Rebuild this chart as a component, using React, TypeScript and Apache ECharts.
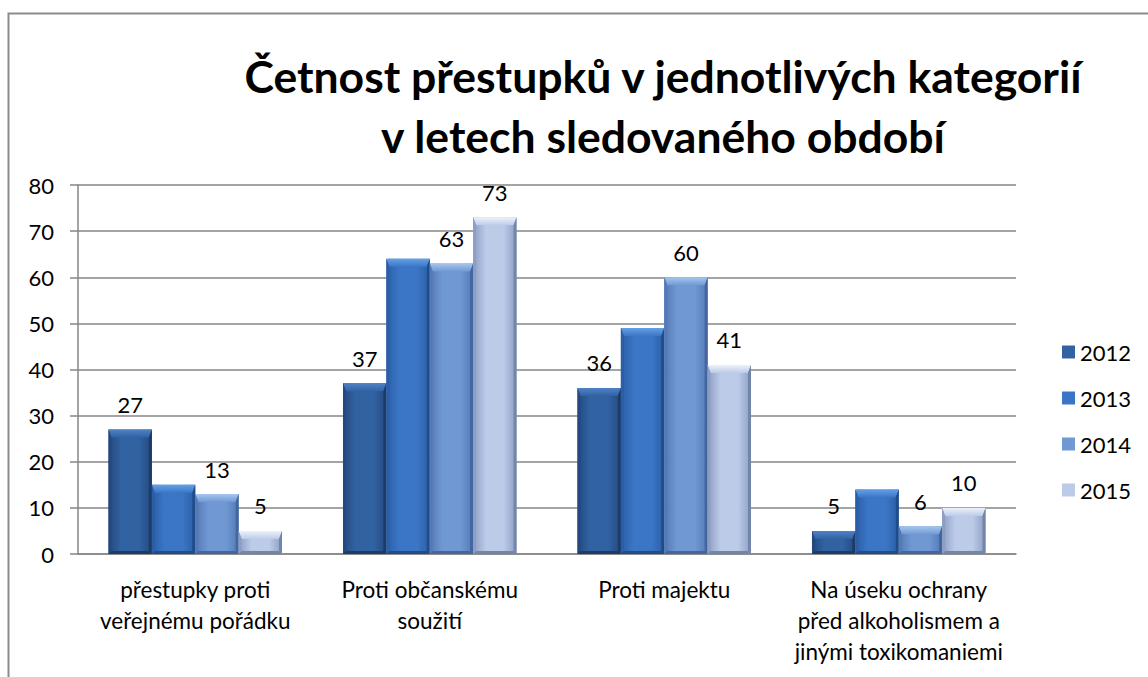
import React, { useEffect, useRef } from "react";
import * as echarts from "echarts";

const categories = [
  "přestupky proti\nveřejnému pořádku",
  "Proti občanskému\nsoužití",
  "Proti majektu",
  "Na úseku ochrany\npřed alkoholismem a\njinými toxikomaniemi",
];
const years = ["2012", "2013", "2014", "2015"];
const values2012 = [27, 37, 36, 5];
const values2013 = [15, 64, 49, 14];
const values2014 = [13, 63, 60, 6];
const values2015 = [5, 73, 41, 10];
const yTicks = [0, 10, 20, 30, 40, 50, 60, 70, 80];

const seriesValues = [values2012, values2013, values2014, values2015];
const showLabels = [true, false, true, true];
const palette = [
  { dark: "#1c3b66", edge: "#24497f", mid: "#3163a3", light: "#4f82c6" },
  { dark: "#1f4c8a", edge: "#2b5ea6", mid: "#3b76c6", light: "#64a0e6" },
  { dark: "#4366a0", edge: "#5479b5", mid: "#7099d4", light: "#a6c6ee" },
  { dark: "#7485aa", edge: "#8d9ec4", mid: "#bccbe8", light: "#eef3fb" },
];

const FONT = "Lato, 'Open Sans', sans-serif";
const CAT_GAP = 0.26;

export default function App() {
  const ref = useRef<HTMLDivElement>(null);
  useEffect(() => {
    if (!ref.current) return;
    const chart = echarts.init(ref.current, undefined, { renderer: "svg" });
    const series = seriesValues.map((vals, si) => ({
      name: years[si],
      type: "custom",
      data: vals.map((v, ci) => [ci, v]),
      encode: { x: 0, y: 1 },
      itemStyle: { color: palette[si].mid },
      renderItem: (params: any, api: any) => {
        const ci = api.value(0);
        const val = api.value(1);
        const base = api.coord([ci, 0]);
        const top = api.coord([ci, val]);
        const band = api.size([1, 0])[0];
        const groupW = band * (1 - CAT_GAP);
        const bw = groupW / seriesValues.length;
        const x0 = base[0] - groupW / 2 + si * bw;
        const x1 = x0 + bw;
        const y0 = base[1];
        const y1 = top[1];
        const h = y0 - y1;
        const b = Math.min(8, h / 2);
        const s = Math.min(3, bw / 4, h / 3);
        const p = palette[si];
        const children: any[] = [
          {
            type: "rect",
            shape: { x: x0, y: y1, width: bw, height: h },
            style: {
              fill: new echarts.graphic.LinearGradient(0, 0, 1, 0, [
                { offset: 0, color: p.edge },
                { offset: 0.3, color: p.mid },
                { offset: 0.7, color: p.mid },
                { offset: 1, color: p.edge },
              ]),
            },
          },
          {
            type: "polygon",
            shape: { points: [[x0, y1], [x1, y1], [x1 - s, y1 + b], [x0 + s, y1 + b]] },
            style: {
              fill: new echarts.graphic.LinearGradient(0, 0, 0, 1, [
                { offset: 0, color: p.light },
                { offset: 1, color: p.mid },
              ]),
            },
          },
          {
            type: "polygon",
            shape: { points: [[x0, y1], [x0 + s, y1 + b], [x0 + s, y0 - s], [x0, y0]] },
            style: { fill: p.edge },
          },
          {
            type: "polygon",
            shape: { points: [[x1, y1], [x1 - s, y1 + b], [x1 - s, y0 - s], [x1, y0]] },
            style: { fill: p.dark },
          },
          {
            type: "polygon",
            shape: { points: [[x0, y0], [x0 + s, y0 - s], [x1 - s, y0 - s], [x1, y0]] },
            style: { fill: p.dark },
          },
        ];
        if (showLabels[si]) {
          children.push({
            type: "text",
            style: {
              x: (x0 + x1) / 2,
              y: y1 - 14,
              text: String(val),
              align: "center",
              verticalAlign: "bottom",
              fontSize: 22,
              fontFamily: FONT,
              fill: "#000",
            },
          });
        }
        return { type: "group", children };
      },
    }));
    chart.setOption({
      animation: false,
      textStyle: { fontFamily: FONT },
      title: {
        text: "Četnost přestupků v jednotlivých kategorií\nv letech sledovaného období",
        left: 658,
        top: 40,
        textAlign: "center",
        textStyle: {
          fontSize: 44.5,
          fontWeight: "bold",
          lineHeight: 60,
          color: "#000",
          fontFamily: FONT,
        },
      },
      graphic: [
        {
          type: "rect",
          shape: { x: 8.5, y: 13.5, width: 1200, height: 700 },
          style: { fill: "none", stroke: "#8c8c8c", lineWidth: 2 },
          silent: true,
        },
      ],
      legend: {
        orient: "vertical",
        left: 1057,
        top: 336,
        itemWidth: 13,
        itemHeight: 13,
        itemGap: 24,
        icon: "rect",
        textStyle: { fontSize: 22, color: "#000", fontFamily: FONT },
        data: years,
      },
      grid: { left: 78, top: 185, width: 938, height: 369, containLabel: false },
      xAxis: {
        type: "category",
        data: categories,
        axisLine: { lineStyle: { color: "#868686", width: 1.5 } },
        axisTick: { length: 8, lineStyle: { color: "#868686", width: 1.5 } },
        axisLabel: {
          fontSize: 22.5,
          lineHeight: 31,
          color: "#000",
          margin: 20,
          interval: 0,
          fontFamily: FONT,
        },
      },
      yAxis: {
        type: "value",
        min: yTicks[0],
        max: yTicks[yTicks.length - 1],
        interval: 10,
        axisLine: { show: true, lineStyle: { color: "#868686", width: 1.5 } },
        axisTick: { show: true, length: 8, lineStyle: { color: "#868686", width: 1.5 } },
        splitLine: { lineStyle: { color: "#868686", width: 1.5 } },
        axisLabel: { fontSize: 22, color: "#000", margin: 24, fontFamily: FONT },
      },
      series,
    });
    return () => chart.dispose();
  }, []);
  return (
    <div
      ref={ref}
      style={{ position: "fixed", left: 0, top: 0, width: 1148, height: 677, background: "#fff" }}
    />
  );
}
